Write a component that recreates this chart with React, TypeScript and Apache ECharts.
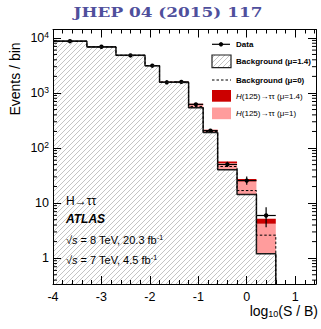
import React, { useEffect, useRef } from "react";
import * as echarts from "echarts";

// ---- data ----
const binEdges = [-4, -3.3, -2.7, -2.1, -1.8, -1.5, -1.2, -0.9, -0.6, -0.2, 0.2, 0.6];
const background = [8670, 6860, 4830, 3130, 1570, 1550, 541, 192, 40.3, 14.3, 1.2];
const backgroundMu0 = [8680, 6870, 4840, 3140, 1580, 1570, 570, 200, 46.2, 16.9, 2.62];
const signalMu1Top = [8680, 6875, 4850, 3150, 1585, 1580, 610, 205, 53.3, 24.7, 4.2];
const signalMu14Top = [8690, 6885, 4860, 3160, 1595, 1600, 638, 215, 57, 27.3, 5.19];
const dataValues = [8700, 6900, 4800, 3130, 1560, 1590, 621, 207, 50.4, 25.7, 5.96];
const dataErrLow = [8610, 6820, 4730, 3070, 1520, 1550, 596, 193, 45.2, 21.5, 3.66];
const dataErrHigh = [8790, 6980, 4870, 3190, 1600, 1630, 646, 221, 56.4, 30.5, 8.45];
const xTickLabels = [-4, -3, -2, -1, 0, 1];
const minorMantissas = [2, 3, 4, 5, 6, 7, 8, 9];
const minorDecades = [0.1, 1, 10, 100, 1000, 10000];

const xMin = -4;
const xMax = 1.43;
const yMin = 0.34;
const yMax = 14200;

const DARK_RED = "#cc0000";
const PINK = "#ff9c9c";
const FONT = "'Liberation Sans', Arial, Helvetica, sans-serif";

function makeHatch(): any {
  const c = document.createElement("canvas");
  const n = 5;
  c.width = n;
  c.height = n;
  const ctx = c.getContext("2d")!;
  ctx.fillStyle = "#ffffff";
  ctx.fillRect(0, 0, n, n);
  ctx.fillStyle = "#c4c4c4";
  for (let i = 0; i < n; i++) ctx.fillRect(i, n - 1 - i, 1, 1);
  return { image: c, repeat: "repeat" };
}

const txt = (x: number, y: number, text: string, size: number, extra: any = {}, rich?: any) => ({
  type: "text",
  x,
  y,
  z: 100,
  style: {
    text,
    fontSize: size,
    fontFamily: FONT,
    fill: "#000",
    verticalAlign: "middle",
    textVerticalAlign: "middle",
    ...extra,
    ...(rich ? { rich } : {}),
  },
});

export default function App() {
  const ref = useRef<HTMLDivElement>(null);
  useEffect(() => {
    document.body.style.margin = "0";
    const chart = echarts.init(ref.current!, null, { renderer: "svg" });
    const hatch = makeHatch();

    const bins = background.map((v, i) => [binEdges[i], binEdges[i + 1], v]);
    const pinkBins = background.map((v, i) => [binEdges[i], binEdges[i + 1], v, signalMu1Top[i]]);
    const redBins = background.map((v, i) => [binEdges[i], binEdges[i + 1], signalMu1Top[i], signalMu14Top[i]]);
    const dataBins = dataValues.map((v, i) => [binEdges[i], binEdges[i + 1], v, dataErrLow[i], dataErrHigh[i]]);
    const stepPoints = (vals: number[]) => {
      const pts: number[][] = [];
      vals.forEach((v, i) => {
        pts.push([binEdges[i], v]);
        pts.push([binEdges[i + 1], v]);
      });
      pts.push([binEdges[binEdges.length - 1], yMin]);
      return pts;
    };
    const minorTicks: number[][] = [];
    minorDecades.forEach((d) =>
      minorMantissas.forEach((m) => {
        const v = d * m;
        if (v > yMin && v < yMax) minorTicks.push([xMin, v]);
      })
    );

    const clipRect = (params: any, x0: number, y0: number, x1: number, y1: number) => {
      const cs = params.coordSys;
      return echarts.graphic.clipRectByRect(
        { x: Math.min(x0, x1), y: Math.min(y0, y1), width: Math.abs(x1 - x0), height: Math.abs(y1 - y0) },
        { x: cs.x, y: cs.y, width: cs.width, height: cs.height }
      );
    };

    const rectSeries = (data: any[], color: any, name: string, hasLo: boolean) => ({
      type: "custom",
      name,
      data,
      encode: hasLo ? { x: [0, 1], y: [2, 3] } : { x: [0, 1], y: [2] },
      clip: true,
      renderItem: (params: any, api: any) => {
        const x0 = api.value(0);
        const x1 = api.value(1);
        const lo = hasLo ? api.value(2) : yMin;
        const hi = hasLo ? api.value(3) : api.value(2);
        const p0 = api.coord([x0, hi]);
        const p1 = api.coord([x1, lo]);
        const shape = clipRect(params, p0[0], p0[1], p1[0], p1[1]);
        if (!shape) return null;
        return { type: "rect", shape, style: { fill: color, stroke: null } };
      },
    });

    const axisCommon = {
      type: "value",
      min: xMin,
      max: xMax,
      interval: 1,
      z: 10,
      axisLine: { show: true, onZero: false, lineStyle: { color: "#000", width: 1 } },
      axisTick: { show: true, inside: true, length: 8, lineStyle: { color: "#000" } },
      minorTick: { show: true, splitNumber: 5, length: 4, lineStyle: { color: "#000" } },
      splitLine: { show: false },
      minorSplitLine: { show: false },
    };
    const yCommon = {
      type: "log",
      logBase: 10,
      min: yMin,
      max: yMax,
      z: 10,
      axisLine: { show: true, onZero: false, lineStyle: { color: "#000", width: 1 } },
      axisTick: { show: true, inside: true, length: 8, lineStyle: { color: "#000" } },
      minorTick: { show: false },
      splitLine: { show: false },
    };

    const supRich = { sup: { fontSize: 7, fontFamily: FONT, verticalAlign: "top", padding: [0, 0, 5, 0] } };
    const iRich = { fontStyle: "italic", fontSize: 11, fontFamily: FONT };

    const option: any = {
      animation: false,
      backgroundColor: "#ffffff",
      grid: { left: 53, right: 5, top: 29.5, bottom: 45, containLabel: false },
      xAxis: [
        {
          ...axisCommon,
          position: "bottom",
          axisLabel: {
            show: true,
            color: "#000",
            fontFamily: FONT,
            fontSize: 12.5,
            margin: 6,
            formatter: (v: number) => (xTickLabels.indexOf(Math.round(v * 1000) / 1000) >= 0 ? String(Math.round(v)) : ""),
          },
        },
        { ...axisCommon, position: "top", axisLabel: { show: false } },
      ],
      yAxis: [
        {
          ...yCommon,
          position: "left",
          axisLabel: {
            show: true,
            color: "#000",
            fontFamily: FONT,
            fontSize: 12.5,
            margin: 4,
            formatter: (v: number) => {
              const k = Math.round(Math.log10(v));
              if (Math.abs(v / Math.pow(10, k) - 1) > 1e-6) return "";
              if (k === 0) return "1";
              if (k === 1) return "10";
              return "10{sup|" + k + "}";
            },
            rich: {
              sup: { fontSize: 8.5, fontFamily: FONT, color: "#000", verticalAlign: "top", padding: [0, 0, 6, 0] },
            },
          },
        },
        { ...yCommon, position: "right", axisLabel: { show: false } },
      ],
      series: [
        rectSeries(bins, hatch, "Background (μ=1.4)", false),
        rectSeries(pinkBins, PINK, "H(125)→ττ (μ=1)", true),
        rectSeries(redBins, DARK_RED, "H(125)→ττ (μ=1.4)", true),
        {
          type: "line",
          name: "Background outline",
          data: stepPoints(background),
          symbol: "none",
          lineStyle: { color: "#1a1a1a", width: 1.5 },
          silent: true,
        },
        {
          type: "line",
          name: "Background (μ=0)",
          data: stepPoints(backgroundMu0),
          symbol: "none",
          lineStyle: { color: "#000", width: 1, type: [2.5, 2] },
          silent: true,
        },
        {
          type: "custom",
          name: "Data",
          data: dataBins,
          encode: { x: [0, 1], y: [2, 3, 4] },
          renderItem: (params: any, api: any) => {
            const x0 = api.value(0);
            const x1 = api.value(1);
            const xc = (x0 + x1) / 2;
            const pl = api.coord([x0, api.value(2)]);
            const pr = api.coord([x1, api.value(2)]);
            const pc = api.coord([xc, api.value(2)]);
            const plo = api.coord([xc, api.value(3)]);
            const phi = api.coord([xc, api.value(4)]);
            const st = { stroke: "#000", lineWidth: 1.2 };
            return {
              type: "group",
              children: [
                { type: "line", shape: { x1: pl[0], y1: pl[1], x2: pr[0], y2: pr[1] }, style: st },
                { type: "line", shape: { x1: plo[0], y1: plo[1], x2: phi[0], y2: phi[1] }, style: st },
                { type: "circle", shape: { cx: pc[0], cy: pc[1], r: 2.2 }, style: { fill: "#000" } },
              ],
            };
          },
        },
        {
          type: "custom",
          name: "minor ticks",
          data: minorTicks,
          encode: { x: [0], y: [1] },
          silent: true,
          renderItem: (params: any, api: any) => {
            const p = api.coord([api.value(0), api.value(1)]);
            const cs = params.coordSys;
            const st = { stroke: "#000", lineWidth: 1 };
            return {
              type: "group",
              children: [
                { type: "line", shape: { x1: cs.x, y1: p[1], x2: cs.x + 4, y2: p[1] }, style: st },
                { type: "line", shape: { x1: cs.x + cs.width - 4, y1: p[1], x2: cs.x + cs.width, y2: p[1] }, style: st },
              ],
            };
          },
        },
      ],
      graphic: [
        {
          type: "text",
          x: 168,
          y: 13,
          z: 100,
          scaleX: 1.3,
          style: {
            text: "JHEP 04 (2015) 117",
            fontSize: 13,
            fontWeight: "bold",
            fontFamily: "'DejaVu Serif', serif",
            fill: "#4f4f9c",
            align: "center",
            verticalAlign: "middle",
            textAlign: "center",
            textVerticalAlign: "middle",
          },
        },
        {
          type: "text",
          x: 15,
          y: 79,
          z: 100,
          rotation: Math.PI / 2,
          style: {
            text: "Events / bin",
            fontSize: 14,
            fontFamily: FONT,
            fill: "#000",
            align: "center",
            verticalAlign: "middle",
            textAlign: "center",
            textVerticalAlign: "middle",
          },
        },
        txt(318, 311, "log{sub|10}(S / B)", 14, { align: "right", textAlign: "right" }, {
          sub: { fontSize: 9, fontFamily: FONT, verticalAlign: "bottom", padding: [6, 0, 0, 0] },
        }),
        // annotations
        txt(66, 201, "H→ττ", 12),
        txt(66, 218.5, "ATLAS", 12, { fontStyle: "italic", fontWeight: "bold" }),
        txt(66, 239.5, "√{i|s} = 8 TeV, 20.3 fb{sup|-1}", 11, {}, { i: iRich, ...supRich }),
        txt(66, 259.5, "√{i|s} = 7 TeV, 4.5 fb{sup|-1}", 11, {}, { i: iRich, ...supRich }),
        // legend
        { type: "line", z: 100, shape: { x1: 212, y1: 44.3, x2: 230, y2: 44.3 }, style: { stroke: "#000", lineWidth: 1.2 } },
        { type: "circle", z: 100, shape: { cx: 221, cy: 44.3, r: 2.2 }, style: { fill: "#000" } },
        txt(236, 44.3, "Data", 8, { fontWeight: "bold" }),
        { type: "rect", z: 100, shape: { x: 212, y: 55, width: 19, height: 12.7 }, style: { fill: hatch, stroke: "#222", lineWidth: 1.2 } },
        txt(236, 61.5, "Background (μ=1.4)", 8, { fontWeight: "bold" }),
        { type: "line", z: 100, shape: { x1: 212, y1: 80, x2: 231, y2: 80 }, style: { stroke: "#000", lineWidth: 1, lineDash: [2.5, 2] } },
        txt(236, 80, "Background (μ=0)", 8, { fontWeight: "bold" }),
        { type: "rect", z: 100, shape: { x: 212, y: 90, width: 19, height: 11.7 }, style: { fill: DARK_RED } },
        txt(236, 96, "{i|H}(125)→ττ (μ=1.4)", 8, {}, { i: { fontStyle: "italic", fontSize: 8, fontFamily: FONT } }),
        { type: "rect", z: 100, shape: { x: 212, y: 107.5, width: 19, height: 11.7 }, style: { fill: PINK } },
        txt(236, 113.5, "{i|H}(125)→ττ (μ=1)", 8, {}, { i: { fontStyle: "italic", fontSize: 8, fontFamily: FONT } }),
      ],
    };
    chart.setOption(option);
    return () => chart.dispose();
  }, []);
  return <div ref={ref} style={{ width: 321, height: 329 }} />;
}
